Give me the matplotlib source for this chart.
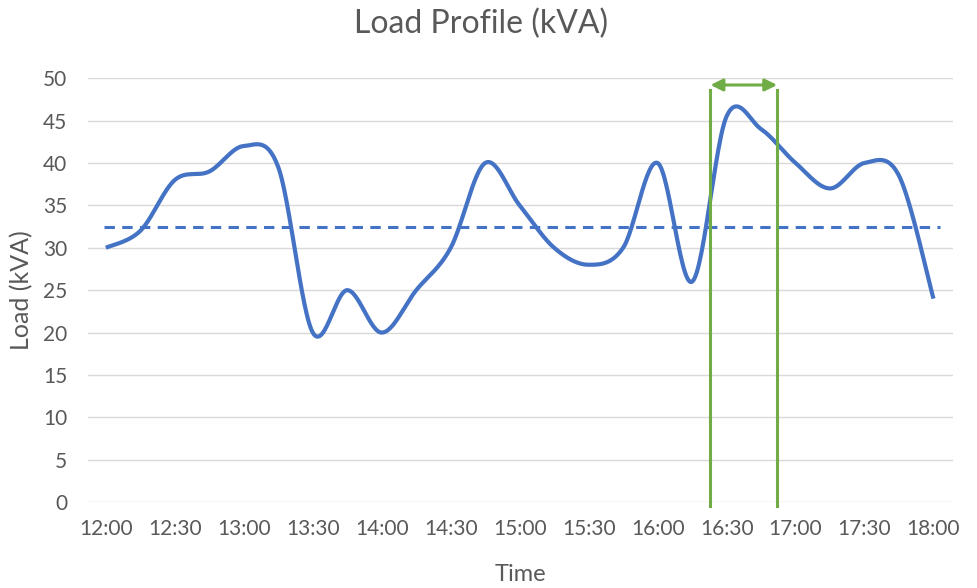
import numpy as np
import matplotlib
matplotlib.use("Agg")
import matplotlib.pyplot as plt

# Load readings every 15 minutes
times = ["12:00", "12:15", "12:30", "12:45", "13:00", "13:15", "13:30", "13:45",
         "14:00", "14:15", "14:30", "14:45", "15:00", "15:15", "15:30", "15:45",
         "16:00", "16:15", "16:30", "16:45", "17:00", "17:15", "17:30", "17:45",
         "18:00"]
load = [30, 32, 38, 39, 42, 39.5, 20, 25,
        20, 25, 30, 40, 35, 30, 28, 30,
        40, 26, 45.5, 44, 40, 37, 40, 38.5,
        24]
average_load = 32.5
window = ["16:23", "16:52"]
tick_labels = ["12:00", "12:30", "13:00", "13:30", "14:00", "14:30", "15:00",
               "15:30", "16:00", "16:30", "17:00", "17:30", "18:00"]

TEXT = "#595959"
BLUE = "#4472C4"
GREEN = "#70AD47"


def to_min(t):
    h, m = t.split(":")
    return (int(h) - 12) * 60 + int(m)


def smooth(x, y, n=30):
    # Catmull-Rom style bezier, like a spreadsheet "smoothed line"
    x = np.asarray(x, float)
    y = np.asarray(y, float)
    px = np.concatenate([[x[0]], x, [x[-1]]])
    py = np.concatenate([[y[0]], y, [y[-1]]])
    xs, ys = [], []
    t = np.linspace(0, 1, n)
    for i in range(1, len(px) - 2):
        p0 = np.array([px[i], py[i]])
        p3 = np.array([px[i + 1], py[i + 1]])
        c1 = p0 + (p3 - np.array([px[i - 1], py[i - 1]])) / 6
        c2 = p3 - (np.array([px[i + 2], py[i + 2]]) - p0) / 6
        pts = ((1 - t) ** 3)[:, None] * p0 + (3 * (1 - t) ** 2 * t)[:, None] * c1 \
            + (3 * (1 - t) * t ** 2)[:, None] * c2 + (t ** 3)[:, None] * p3
        xs.append(pts[:, 0])
        ys.append(pts[:, 1])
    return np.concatenate(xs), np.concatenate(ys)


plt.rcParams['font.family'] = ['Lato', 'DejaVu Sans']

fig = plt.figure(figsize=(9.77, 5.88), dpi=100)
ax = fig.add_axes([0.090, 0.146, 0.885, 0.721])

x = [to_min(t) for t in times]
sx, sy = smooth(x, load)
ax.plot(sx, sy, color=BLUE, lw=3, solid_capstyle='butt', zorder=3)

ax.plot([x[0] - 1, x[-1] + 3], [average_load, average_load], color=BLUE, lw=2.2,
        dashes=(3.4, 2.4), zorder=2)

# highlighted window
w0, w1 = [to_min(t) for t in window]
for w in (w0, w1):
    ax.plot([w, w], [-0.4, 48.6], color=GREEN, lw=2.2, clip_on=False, zorder=4)
ax.annotate("", xy=(w0, 49.2), xytext=(w1, 49.2),
            arrowprops=dict(arrowstyle="<|-|>", color=GREEN, lw=2.2,
                            mutation_scale=18, shrinkA=0, shrinkB=0),
            annotation_clip=False, zorder=4)

ax.set_xlim(-7.8, 368.3)
ax.set_ylim(0, 50)
ax.set_yticks(range(0, 51, 5))
ax.set_xticks([to_min(t) for t in tick_labels])
ax.set_xticklabels(tick_labels)
ax.grid(axis='y', color='#D9D9D9', lw=1)
ax.set_axisbelow(True)
for s in ax.spines.values():
    s.set_visible(False)
ax.tick_params(length=0, labelsize=15, colors=TEXT)
ax.tick_params(axis='x', pad=12)
ax.tick_params(axis='y', pad=15)

fig.text(0.492, 1 - 24 / 588, "Load Profile (kVA)", fontsize=23, color=TEXT,
         ha='center', va='center')
ax.set_xlabel("Time", fontsize=17, color=TEXT, labelpad=18)
ax.set_ylabel("Load (kVA)", fontsize=18, color=TEXT, labelpad=7)

fig.savefig("out.png", dpi=100)
